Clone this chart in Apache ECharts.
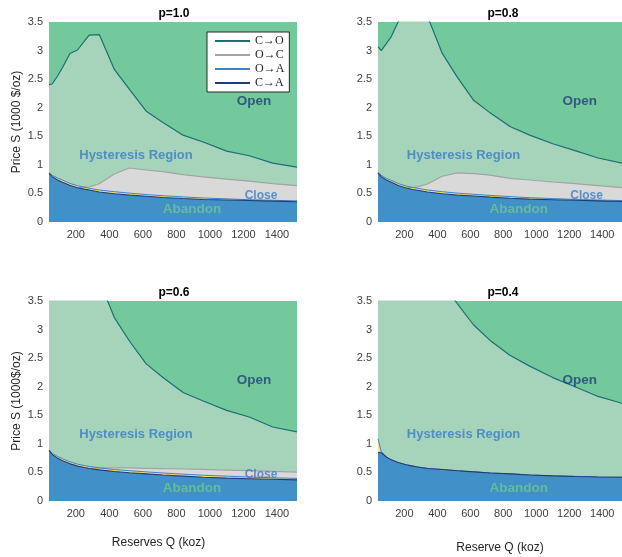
<!DOCTYPE html>
<html><head><meta charset="utf-8">
<script src="https://cdn.jsdelivr.net/npm/echarts@6/dist/echarts.min.js"></script>
<style>html,body{margin:0;padding:0;background:#fff}#c{width:622px;height:557px}</style>
</head><body><div id="c"></div>
<script>
// Reserves Q (koz) sample points shared by all boundary curves
const X = [40, 60, 90, 120, 165, 210, 250, 280, 340, 430, 520, 620, 720, 840, 960, 1100, 1235, 1375, 1520];

// p = 1.0
const CO_10 = [2.40, 2.42, 2.55, 2.70, 2.95, 3.01, 3.16, 3.27, 3.28, 2.67, 2.32, 1.94, 1.74, 1.52, 1.40, 1.24, 1.16, 1.03, 0.96];
const OC_10 = [0.85, 0.79, 0.735, 0.695, 0.64, 0.60, 0.61, 0.615, 0.67, 0.84, 0.945, 0.91, 0.88, 0.83, 0.79, 0.75, 0.715, 0.67, 0.635];
const OA_10 = [0.86, 0.815, 0.77, 0.735, 0.675, 0.635, 0.61, 0.59, 0.56, 0.53, 0.505, 0.48, 0.46, 0.44, 0.42, 0.405, 0.39, 0.38, 0.37];
const CA_10 = [0.85, 0.79, 0.735, 0.695, 0.64, 0.60, 0.575, 0.56, 0.525, 0.495, 0.47, 0.45, 0.43, 0.41, 0.395, 0.385, 0.375, 0.365, 0.355];

// p = 0.8
const CO_08 = [3.07, 3.00, 3.12, 3.24, 3.52, 3.80, 3.95, 4.00, 3.60, 2.95, 2.54, 2.13, 1.91, 1.67, 1.52, 1.37, 1.25, 1.12, 1.03];
const OC_08 = [0.86, 0.79, 0.735, 0.695, 0.635, 0.595, 0.605, 0.615, 0.665, 0.80, 0.86, 0.845, 0.82, 0.765, 0.735, 0.70, 0.67, 0.635, 0.60];
const OA_08 = [0.86, 0.815, 0.765, 0.73, 0.67, 0.63, 0.605, 0.59, 0.56, 0.53, 0.505, 0.485, 0.465, 0.445, 0.425, 0.41, 0.395, 0.385, 0.375];
const CA_08 = [0.86, 0.79, 0.735, 0.695, 0.635, 0.595, 0.57, 0.555, 0.525, 0.495, 0.47, 0.455, 0.435, 0.415, 0.40, 0.39, 0.38, 0.37, 0.36];

// p = 0.6
const CO_06 = [6.0, 5.8, 5.6, 5.4, 5.1, 4.8, 4.55, 4.35, 3.86, 3.21, 2.80, 2.40, 2.16, 1.90, 1.75, 1.585, 1.47, 1.295, 1.21];
const OC_06 = [0.885, 0.81, 0.75, 0.705, 0.65, 0.61, 0.585, 0.57, 0.58, 0.58, 0.578, 0.572, 0.566, 0.56, 0.552, 0.542, 0.532, 0.52, 0.505];
const OA_06 = [0.89, 0.835, 0.78, 0.74, 0.685, 0.645, 0.62, 0.605, 0.58, 0.55, 0.53, 0.51, 0.49, 0.47, 0.45, 0.435, 0.42, 0.405, 0.395];
const CA_06 = [0.885, 0.81, 0.75, 0.705, 0.65, 0.61, 0.585, 0.57, 0.545, 0.515, 0.495, 0.475, 0.455, 0.435, 0.415, 0.40, 0.39, 0.38, 0.37];

// p = 0.4
const CO_04 = [7.5, 7.2, 6.8, 6.4, 5.9, 5.4, 5.0, 4.7, 4.3, 3.82, 3.46, 3.08, 2.81, 2.55, 2.36, 2.16, 2.00, 1.83, 1.71];
const OC_04 = [0.85, 0.845, 0.77, 0.72, 0.67, 0.635, 0.61, 0.595, 0.57, 0.55, 0.53, 0.51, 0.49, 0.475, 0.455, 0.44, 0.43, 0.42, 0.415];
const OA_04 = [1.09, 0.86, 0.77, 0.72, 0.67, 0.635, 0.61, 0.595, 0.57, 0.55, 0.53, 0.51, 0.49, 0.475, 0.455, 0.44, 0.43, 0.42, 0.415];
const CA_04 = [0.85, 0.845, 0.77, 0.72, 0.67, 0.635, 0.61, 0.595, 0.57, 0.55, 0.53, 0.51, 0.49, 0.475, 0.455, 0.44, 0.43, 0.42, 0.415];

const TITLES = ['p=1.0', 'p=0.8', 'p=0.6', 'p=0.4'];
const Y_NAMES = ['Price S (1000 $/oz)', '', 'Price S (1000$/oz)', ''];
const X_NAMES = ['', '', 'Reserves Q (koz)', 'Reserve Q (koz)'];
const X_TICKS = [200, 400, 600, 800, 1000, 1200, 1400];
const LEGEND_NAMES = ['C\u2192O', 'O\u2192C', 'O\u2192A', 'C\u2192A'];
const REGION_NAMES = ['Open', 'Hysteresis Region', 'Close', 'Abandon'];
const REGION_AT = [[1263, 2.11], [559, 1.17], [1305, 0.455], [893, 0.23]];
const REGION_SHOWN = [[1,1,1,1],[1,1,1,1],[1,1,1,1],[1,1,0,1]];

const PANELS = [
  [CO_10, OC_10, OA_10, CA_10],
  [CO_08, OC_08, OA_08, CA_08],
  [CO_06, OC_06, OA_06, CA_06],
  [CO_04, OC_04, OA_04, CA_04]
];

const LINE_COLORS = ['#1d6f70', '#a3a3a3', '#3f80cc', '#1f3b78'];
const AREA_COLORS = ['#a6d4bb', '#d9d9d9', '#f2e27a', '#4190c8'];
const LINE_W = [1.2, 1.2, 1.0, 1.1];
const REGION_STYLE = [
  {color: '#1f3f7c', fontSize: 13.5},
  {color: '#3a7cc6', fontSize: 13},
  {color: '#3a7cc6', fontSize: 12},
  {color: '#6cc790', fontSize: 13.5}
];

const POS = [[49, 22], [378, 22], [49, 301], [378, 301]];
const GW = 248, GH = 200;
const FONT = 'Liberation Sans, Arial, sans-serif';

const grid = [], xAxis = [], yAxis = [], series = [], title = [];
POS.forEach((p, i) => {
  grid.push({left: p[0], top: p[1], width: GW, height: GH, show: true, backgroundColor: '#73c99b', borderWidth: 0, containLabel: false});
  xAxis.push({
    type: 'value', gridIndex: i, min: 40, max: 1520,
    axisLine: {show: false}, axisTick: {show: false}, splitLine: {show: false},
    axisLabel: {customValues: X_TICKS, formatter: v => String(v), color: '#404040', fontSize: 11, fontFamily: FONT, margin: 7},
    name: X_NAMES[i], nameLocation: 'middle', nameGap: i === 2 ? 36 : 41,
    nameTextStyle: {color: '#262626', fontSize: 12, fontFamily: FONT, padding: i === 2 ? [0, 29, 0, 0] : 0}
  });
  yAxis.push({
    type: 'value', gridIndex: i, min: 0, max: 3.5, interval: 0.5,
    axisLine: {show: false}, axisTick: {show: false}, splitLine: {show: false},
    axisLabel: {color: '#404040', fontSize: 11, fontFamily: FONT, margin: 6},
    name: Y_NAMES[i], nameLocation: 'middle', nameGap: 26,
    nameTextStyle: {color: '#262626', fontSize: 12, fontFamily: FONT}
  });
  title.push({
    text: TITLES[i], left: p[0] + GW / 2 + 1, top: p[1] - 14, textAlign: 'center', padding: 0,
    textStyle: {fontSize: 12, fontWeight: 'bold', color: '#000', fontFamily: FONT}
  });
  PANELS[i].forEach((arr, k) => {
    series.push({
      type: 'line', name: LEGEND_NAMES[k], xAxisIndex: i, yAxisIndex: i,
      data: X.map((x, j) => [x, arr[j]]),
      symbol: 'none', showSymbol: false, clip: true, silent: true,
      lineStyle: {color: LINE_COLORS[k], width: LINE_W[k]},
      itemStyle: {color: LINE_COLORS[k]},
      areaStyle: {color: AREA_COLORS[k], opacity: 1},
      z: 2
    });
  });
  series.push({
    type: 'scatter', xAxisIndex: i, yAxisIndex: i, symbolSize: 0, silent: true, z: 5,
    data: REGION_NAMES.map((n, k) => ({name: n, value: REGION_AT[k], k}))
      .filter(d => REGION_SHOWN[i][d.k])
      .map(d => ({name: d.name, value: d.value, label: {show: true, position: 'inside', formatter: '{b}', fontWeight: 'bold', fontFamily: FONT, color: REGION_STYLE[d.k].color, fontSize: REGION_STYLE[d.k].fontSize}}))
  });
});

const chart = echarts.init(document.getElementById('c'), null, {renderer: 'canvas'});
chart.setOption({
  animation: false,
  backgroundColor: '#fff',
  title, grid, xAxis, yAxis, series,
  legend: {
    data: LEGEND_NAMES, left: 207, top: 32, orient: 'vertical',
    icon: 'rect', itemWidth: 35, itemHeight: 2, itemGap: 2,
    padding: [3, 5, 3, 8], backgroundColor: '#fff', borderColor: '#262626', borderWidth: 1, borderRadius: 0,
    textStyle: {fontFamily: 'Liberation Serif, DejaVu Serif, serif', fontSize: 12, color: '#222', lineHeight: 12},
    selectedMode: false
  }
});
</script></body></html>
